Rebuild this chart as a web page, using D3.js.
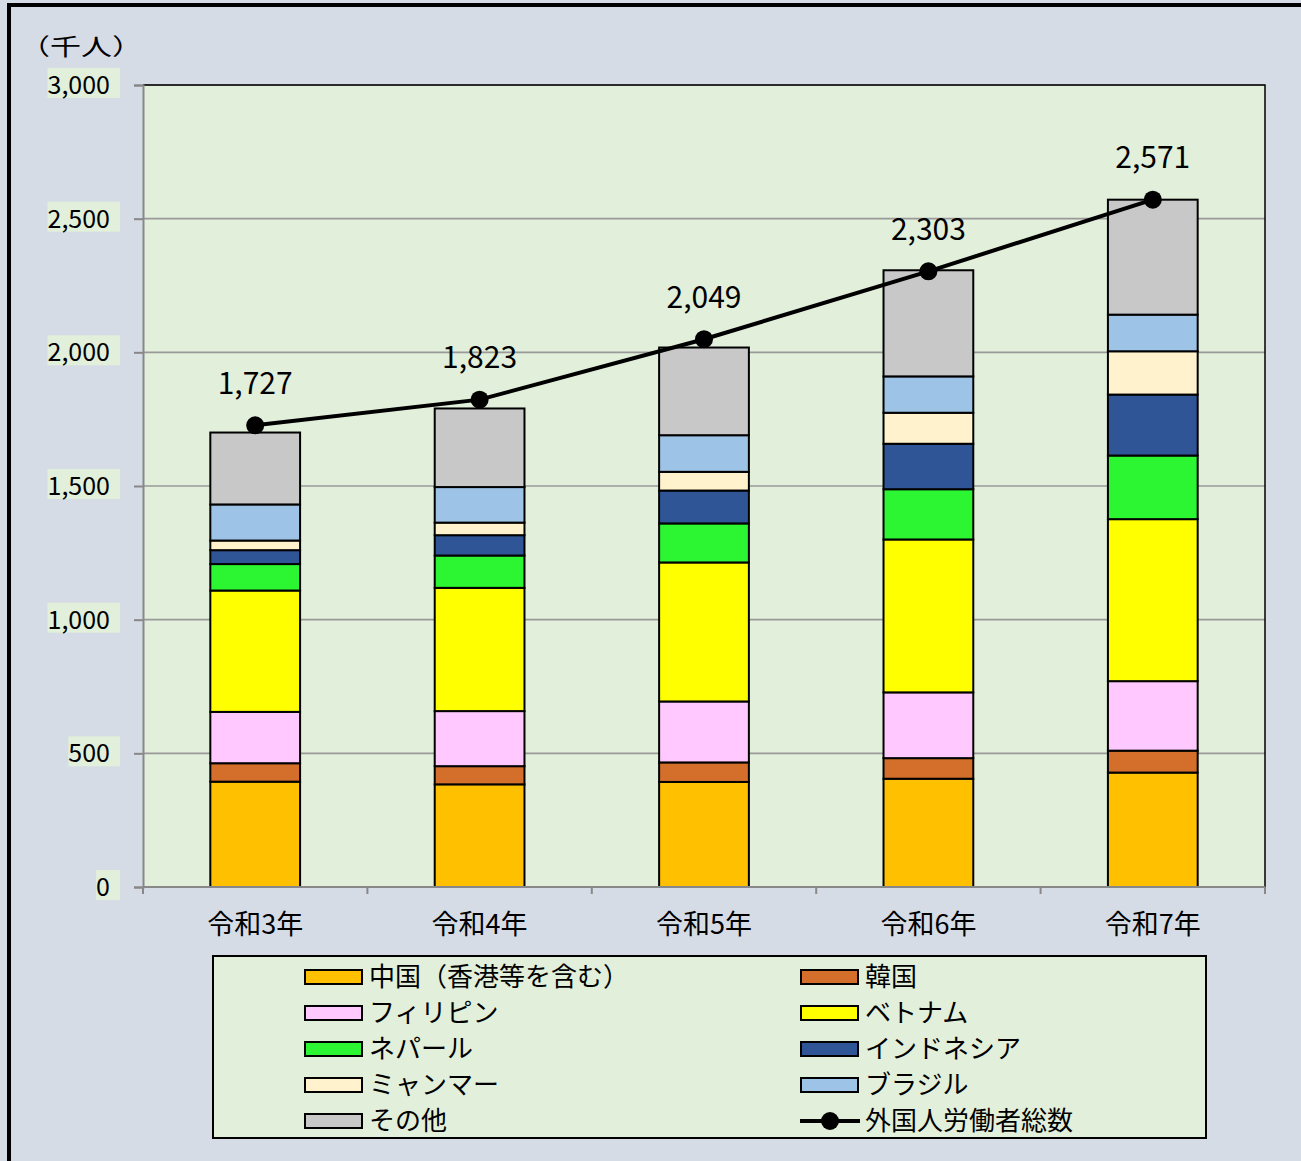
<!DOCTYPE html>
<html>
<head>
<meta charset="utf-8">
<script src="https://cdn.jsdelivr.net/npm/d3@7"></script>
<style>
  body { margin: 0; background: #d6dce5; }
  text { font-family: "Noto Sans CJK JP", "Noto Sans", sans-serif; fill: #000; }
</style>
</head>
<body>
<div class="container"></div>
<script>
const wd = 1301
const ht = 1161

// data (thousand people)
const years = ["令和3年", "令和4年", "令和5年", "令和6年", "令和7年"]
const china = [394, 384, 393, 405, 428]
const korea = [69, 68, 73, 77, 82]
const philippines = [192, 206, 228, 246, 260]
const vietnam = [454, 461, 520, 572, 606]
const nepal = [99, 121, 146, 188, 238]
const indonesia = [52, 76, 123, 170, 228]
const myanmar = [36, 47, 70, 116, 162]
const brazil = [135, 133, 137, 136, 137]
const others = [269, 294, 328, 397, 430]
const totals = [1727, 1823, 2049, 2303, 2571]
const yTicks = [0, 500, 1000, 1500, 2000, 2500, 3000]

const seriesNames = ["中国（香港等を含む）", "韓国", "フィリピン", "ベトナム", "ネパール", "インドネシア", "ミャンマー", "ブラジル", "その他"]
const seriesColors = ["#ffc000", "#d36f2b", "#ffc8fe", "#ffff00", "#2cf532", "#2f5597", "#fff2cc", "#9dc3e6", "#c8c8c8"]
const seriesValues = [china, korea, philippines, vietnam, nepal, indonesia, myanmar, brazil, others]
const lineName = "外国人労働者総数"

// build table rows for d3.stack
const table = years.map((y, i) => {
  let row = { year: y }
  seriesNames.forEach((s, k) => { row[s] = seriesValues[k][i] })
  return row
})

const plotL = 143, plotR = 1265, plotT = 85, plotB = 887

const svg = d3.select(".container").append("svg")
  .attr("width", wd)
  .attr("height", ht)
  .style("display", "block")

svg.append("rect").attr("width", wd).attr("height", ht).attr("fill", "#d6dce5")

// outer frame (only left and top visible)
svg.append("path")
  .attr("d", "M9," + ht + " L9,5 L" + wd + ",5")
  .attr("fill", "none")
  .attr("stroke", "#000")
  .attr("stroke-width", 4)

const x = d3.scaleBand()
  .domain(years)
  .range([plotL, plotR])
  .paddingInner(0.6)
  .paddingOuter(0.3)

const y = d3.scaleLinear()
  .domain([0, 3000])
  .range([plotB, plotT])

// plot area
svg.append("rect")
  .attr("x", plotL).attr("y", plotT)
  .attr("width", plotR - plotL).attr("height", plotB - plotT)
  .attr("fill", "#e2efda")

// gridlines
svg.append("g").selectAll("line")
  .data(yTicks.filter(d => d > 0))
  .enter().append("line")
  .attr("x1", plotL).attr("x2", plotR)
  .attr("y1", d => y(d)).attr("y2", d => y(d))
  .attr("stroke", "#999")
  .attr("stroke-width", 1.6)

// plot border top / right
svg.append("path")
  .attr("d", "M" + plotL + "," + plotT + " L" + plotR + "," + plotT + " L" + plotR + "," + plotB)
  .attr("fill", "none")
  .attr("stroke", "#000")
  .attr("stroke-width", 1.5)

// stacked bars
const stack = d3.stack().keys(seriesNames)
const layers = stack(table)

const layerG = svg.append("g").selectAll("g")
  .data(layers)
  .enter().append("g")
  .attr("fill", (d, i) => seriesColors[i])

layerG.selectAll("rect")
  .data(d => d)
  .enter().append("rect")
  .attr("x", d => x(d.data.year))
  .attr("width", x.bandwidth())
  .attr("y", d => y(d[1]))
  .attr("height", d => y(d[0]) - y(d[1]))
  .attr("stroke", "#000")
  .attr("stroke-width", 2)

// y axis
const yAxis = svg.append("g")
  .attr("transform", "translate(" + plotL + ",0)")
  .call(d3.axisLeft(y).tickValues(yTicks).tickSize(9).tickPadding(0).tickFormat(d3.format(",")))

yAxis.select(".domain").attr("stroke", "#888").attr("stroke-width", 2)
yAxis.selectAll(".tick line").attr("stroke", "#888").attr("stroke-width", 2)
yAxis.selectAll(".tick text").remove()

const yLab = svg.append("g").selectAll("g")
  .data(yTicks)
  .enter().append("g")
yLab.append("text")
  .attr("x", 110)
  .attr("y", d => y(d))
  .attr("dy", "0.36em")
  .attr("text-anchor", "end")
  .style("font-size", "25px")
  .text(d => d3.format(",")(d))
yLab.each(function () {
  let t = d3.select(this).select("text")
  let b = t.node().getBBox()
  d3.select(this).insert("rect", "text")
    .attr("x", b.x)
    .attr("y", b.y + b.height / 2 - 15)
    .attr("width", 120 - b.x)
    .attr("height", 30)
    .attr("fill", "#e2efda")
})

// x axis
const xAxis = svg.append("g")
  .attr("transform", "translate(0," + plotB + ")")
  .call(d3.axisBottom(x).tickSize(0).tickPadding(33))
xAxis.select(".domain").remove()
xAxis.selectAll(".tick text")
  .style("font-size", "27px")
  .attr("dy", "0.5em")

const step = x.step()
const edges = d3.range(years.length + 1).map(i => plotL + i * step)
svg.append("line")
  .attr("x1", plotL).attr("x2", plotR)
  .attr("y1", plotB).attr("y2", plotB)
  .attr("stroke", "#888").attr("stroke-width", 2)
svg.append("g").selectAll("line")
  .data(edges)
  .enter().append("line")
  .attr("x1", d => d).attr("x2", d => d)
  .attr("y1", plotB).attr("y2", plotB + 7)
  .attr("stroke", "#888").attr("stroke-width", 2)

// total line
const lineFunc = d3.line()
  .x((d, i) => x(years[i]) + x.bandwidth() / 2)
  .y(d => y(d))

svg.append("path")
  .attr("d", lineFunc(totals))
  .attr("fill", "none")
  .attr("stroke", "#000")
  .attr("stroke-width", 4)

svg.append("g").selectAll("circle")
  .data(totals)
  .enter().append("circle")
  .attr("cx", (d, i) => x(years[i]) + x.bandwidth() / 2)
  .attr("cy", d => y(d))
  .attr("r", 9)
  .attr("fill", "#000")

svg.append("g").selectAll("text")
  .data(totals)
  .enter().append("text")
  .attr("x", (d, i) => x(years[i]) + x.bandwidth() / 2)
  .attr("y", d => y(d) - 42)
  .attr("dy", "0.36em")
  .attr("text-anchor", "middle")
  .style("font-size", "30px")
  .text(d => d3.format(",")(d))

// unit label
svg.append("text")
  .attr("transform", "translate(19,55) scale(1.35,1)")
  .style("font-size", "23px")
  .text("（千人）")

// legend
const lg = svg.append("g")
lg.append("rect")
  .attr("x", 213).attr("y", 956)
  .attr("width", 993).attr("height", 182)
  .attr("fill", "#e2efda")
  .attr("stroke", "#000")
  .attr("stroke-width", 2)

const legendItems = seriesNames.map((s, i) => ({ name: s, color: seriesColors[i], line: false }))
legendItems.push({ name: lineName, color: "#000", line: true })

const colX = [305, 801]
const rowY = d3.range(5).map(i => 977 + i * 36)

const item = lg.selectAll("g.item")
  .data(legendItems)
  .enter().append("g")
  .attr("class", "item")
  .attr("transform", (d, i) => "translate(" + colX[i % 2] + "," + rowY[Math.floor(i / 2)] + ")")

item.filter(d => !d.line).append("rect")
  .attr("x", 0).attr("y", -7)
  .attr("width", 57).attr("height", 14)
  .attr("fill", d => d.color)
  .attr("stroke", "#000")
  .attr("stroke-width", 2)

item.filter(d => d.line).append("line")
  .attr("x1", -1).attr("x2", 59)
  .attr("y1", 0).attr("y2", 0)
  .attr("stroke", "#000").attr("stroke-width", 4)
item.filter(d => d.line).append("circle")
  .attr("cx", 29).attr("cy", 0).attr("r", 9).attr("fill", "#000")

item.append("text")
  .attr("x", 64)
  .attr("y", 0)
  .attr("dy", "0.36em")
  .style("font-size", "26px")
  .text(d => d.name)
</script>
</body>
</html>
